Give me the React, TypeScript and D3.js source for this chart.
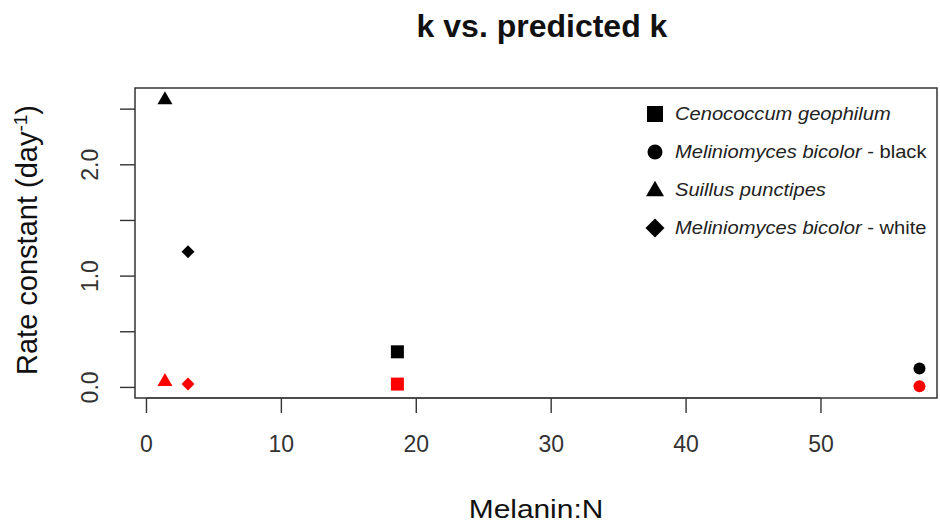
import React from 'react'
import * as d3 from 'd3'

// species, in legend order
const species = [
    'Cenococcum geophilum',
    'Meliniomyces bicolor',
    'Suillus punctipes',
    'Meliniomyces bicolor',
]
const speciesSuffix = ['', ' - black', '', ' - white']
const shapes = ['square', 'circle', 'triangle', 'diamond']

// Melanin:N per species
const melaninN = [18.6, 57.3, 1.37, 3.08]
// observed k (black) and predicted k (red)
const observedK = [0.32, 0.17, 2.59, 1.22]
const predictedK = [0.03, 0.01, 0.06, 0.03]

const xTicks = [0, 10, 20, 30, 40, 50]
const yTicks = [0, 0.5, 1, 1.5, 2, 2.5]
const yLabels = [0, 1, 2]

const W = 940
const H = 529
const box = { left: 135, right: 937, top: 88, bottom: 398 }
const font = '"Liberation Sans", Arial, sans-serif'

function symbolPath(shape: string, size: number) {
    switch (shape) {
        case 'square':
            return d3.symbol(d3.symbolSquare, size * size)()!
        case 'circle':
            return d3.symbol(d3.symbolCircle, (Math.PI * size * size) / 4)()!
        case 'triangle': {
            const h = size * 0.866
            return `M0,${-h * 0.6}L${size / 2},${h * 0.4}L${-size / 2},${h * 0.4}Z`
        }
        default: {
            const r = size / 2
            return `M0,${-r}L${r},0L0,${r}L${-r},0Z`
        }
    }
}

const symbolSize: Record<string, number> = { square: 13, circle: 12, triangle: 15, diamond: 13 }
const legendSize: Record<string, number> = { square: 16, circle: 15, triangle: 18, diamond: 19 }

export default function App() {
    const x = d3.scaleLinear().domain([-0.85, 58.6]).range([box.left, box.right])
    const y = d3.scaleLinear().domain([-0.095, 2.69]).range([box.bottom, box.top])
    const cx = (box.left + box.right) / 2

    return (
        <svg width={W} height={H} style={{ position: 'absolute', left: 0, top: 0, background: '#fff' }}>
            <text x={542} y={37} textAnchor="middle" fontFamily={font} fontWeight="bold" fontSize={32} fill="#111">
                k vs. predicted k
            </text>

            {/* points */}
            {shapes.map((s, i) => (
                <g key={'p' + i}>
                    <path
                        d={symbolPath(s, symbolSize[s])}
                        transform={`translate(${x(melaninN[i])},${y(observedK[i])})`}
                        fill="#000"
                    />
                    <path
                        d={symbolPath(s, symbolSize[s])}
                        transform={`translate(${x(melaninN[i])},${y(predictedK[i])})`}
                        fill="#ff0000"
                    />
                </g>
            ))}

            <rect
                x={box.left}
                y={box.top}
                width={box.right - box.left}
                height={box.bottom - box.top}
                fill="none"
                stroke="#333"
                strokeWidth={1.5}
            />

            {/* x axis */}
            <line x1={x(0)} x2={x(50)} y1={box.bottom} y2={box.bottom} stroke="#333" />
            {xTicks.map((t) => (
                <g key={'x' + t}>
                    <line x1={x(t)} x2={x(t)} y1={box.bottom} y2={box.bottom + 15} stroke="#333" strokeWidth={1.4} />
                    <text x={x(t)} y={452} textAnchor="middle" fontFamily={font} fontSize={23} fill="#333">
                        {t}
                    </text>
                </g>
            ))}

            {/* y axis */}
            {yTicks.map((t) => (
                <line key={'y' + t} x1={box.left - 15} x2={box.left} y1={y(t)} y2={y(t)} stroke="#333" strokeWidth={1.4} />
            ))}
            {yLabels.map((t) => (
                <text
                    key={'yl' + t}
                    transform={`translate(98,${y(t)}) rotate(-90)`}
                    textAnchor="middle"
                    fontFamily={font}
                    fontSize={23}
                    fill="#333"
                >
                    {t.toFixed(1)}
                </text>
            ))}

            <text
                transform={`translate(${cx},518) scale(1.15,1)`}
                textAnchor="middle"
                fontFamily={font}
                fontSize={26}
                fill="#111"
            >
                Melanin:N
            </text>
            <text
                transform={`translate(37,240) rotate(-90)`}
                textAnchor="middle"
                fontFamily={font}
                fontSize={29}
                fill="#111"
            >
                Rate constant (day
                <tspan dy={-10} fontSize={19}>-1</tspan>
                <tspan dy={10}>)</tspan>
            </text>

            {/* legend */}
            {shapes.map((s, i) => {
                const ly = 114 + i * 38
                return (
                    <g key={'l' + i}>
                        <path d={symbolPath(s, legendSize[s])} transform={`translate(655,${ly})`} fill="#000" />
                        <text
                            transform={`translate(675,${ly + 6}) scale(1.15,1)`}
                            fontFamily={font}
                            fontSize={17.5}
                            fill="#222"
                        >
                            <tspan fontStyle="italic">{species[i]}</tspan>
                            {speciesSuffix[i]}
                        </text>
                    </g>
                )
            })}
        </svg>
    )
}
